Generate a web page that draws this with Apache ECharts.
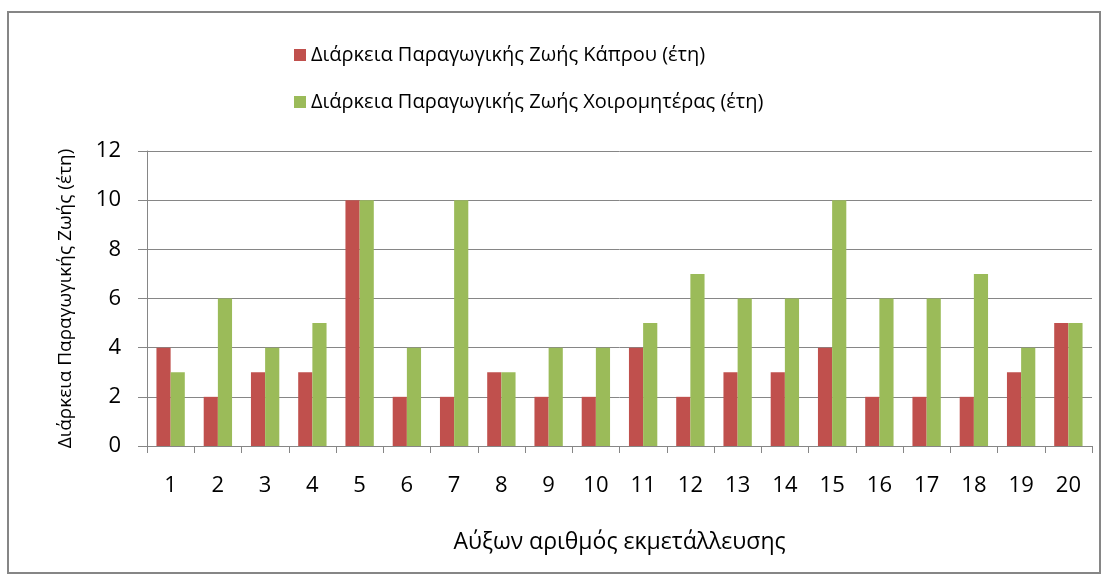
<!DOCTYPE html>
<html>
<head>
<meta charset="utf-8">
<script src="https://cdn.jsdelivr.net/npm/echarts@6/dist/echarts.min.js"></script>
<style>
html, body { margin: 0; padding: 0; background: #fff; }
#chart { width: 1109px; height: 581px; }
</style>
</head>
<body>
<div id="chart"></div>
<script type="text/javascript">
// αύξων αριθμός εκμετάλλευσης
var categories = ['1','2','3','4','5','6','7','8','9','10','11','12','13','14','15','16','17','18','19','20'];
// διάρκεια παραγωγικής ζωής (έτη)
var kaprou = [4,2,3,3,10,2,2,3,2,2,4,2,3,3,4,2,2,2,3,5];
var xoiromiteras = [3,6,4,5,10,4,10,3,4,4,5,7,6,6,10,6,6,7,4,5];
var seriesNames = ['Διάρκεια Παραγωγικής Ζωής Κάπρου (έτη)', 'Διάρκεια Παραγωγικής Ζωής Χοιρομητέρας (έτη)'];

var chart = echarts.init(document.getElementById('chart'));
var font = 'Open Sans';

var options = {
	animation: false,
	textStyle: { fontFamily: font },
	graphic: [{
		type: 'rect',
		shape: { x: 8, y: 12, width: 1092, height: 561 },
		style: { fill: 'none', stroke: '#868686', lineWidth: 2 },
		silent: true
	}],
	legend: {
		orient: 'vertical',
		left: 289,
		top: 40,
		itemWidth: 12,
		itemHeight: 12,
		itemGap: 27,
		icon: 'rect',
		textStyle: { fontSize: 20, color: '#000', fontFamily: font },
		data: seriesNames
	},
	grid: { left: 147, right: 17, top: 151, bottom: 135 },
	xAxis: {
		type: 'category',
		data: categories,
		name: 'Αύξων αριθμός εκμετάλλευσης',
		nameLocation: 'middle',
		nameGap: 85,
		nameTextStyle: { fontSize: 23, color: '#000' },
		axisLine: { lineStyle: { color: '#868686', width: 1 } },
		axisTick: { show: true, length: 7, lineStyle: { color: '#868686' } },
		axisLabel: { fontSize: 22, color: '#000', margin: 29 }
	},
	yAxis: {
		type: 'value',
		min: 0,
		max: 12,
		interval: 2,
		name: 'Διάρκεια Παραγωγικής Ζωής (έτη)',
		nameLocation: 'middle',
		nameRotate: 90,
		nameGap: 72,
		nameTextStyle: { fontSize: 19, color: '#000' },
		axisLine: { show: true, lineStyle: { color: '#868686', width: 1 } },
		axisTick: { show: true, length: 9, lineStyle: { color: '#868686' } },
		axisLabel: { fontSize: 22, color: '#000', margin: 26 },
		splitLine: { lineStyle: { color: '#868686', width: 1 } }
	},
	series: [
		{
			name: seriesNames[0],
			type: 'bar',
			data: kaprou,
			barGap: '0%',
			barCategoryGap: '40%',
			itemStyle: { color: '#C0504D' }
		},
		{
			name: seriesNames[1],
			type: 'bar',
			data: xoiromiteras,
			barGap: '0%',
			barCategoryGap: '40%',
			itemStyle: { color: '#9BBB59' }
		}
	]
};
chart.setOption(options);
</script>
</body>
</html>
